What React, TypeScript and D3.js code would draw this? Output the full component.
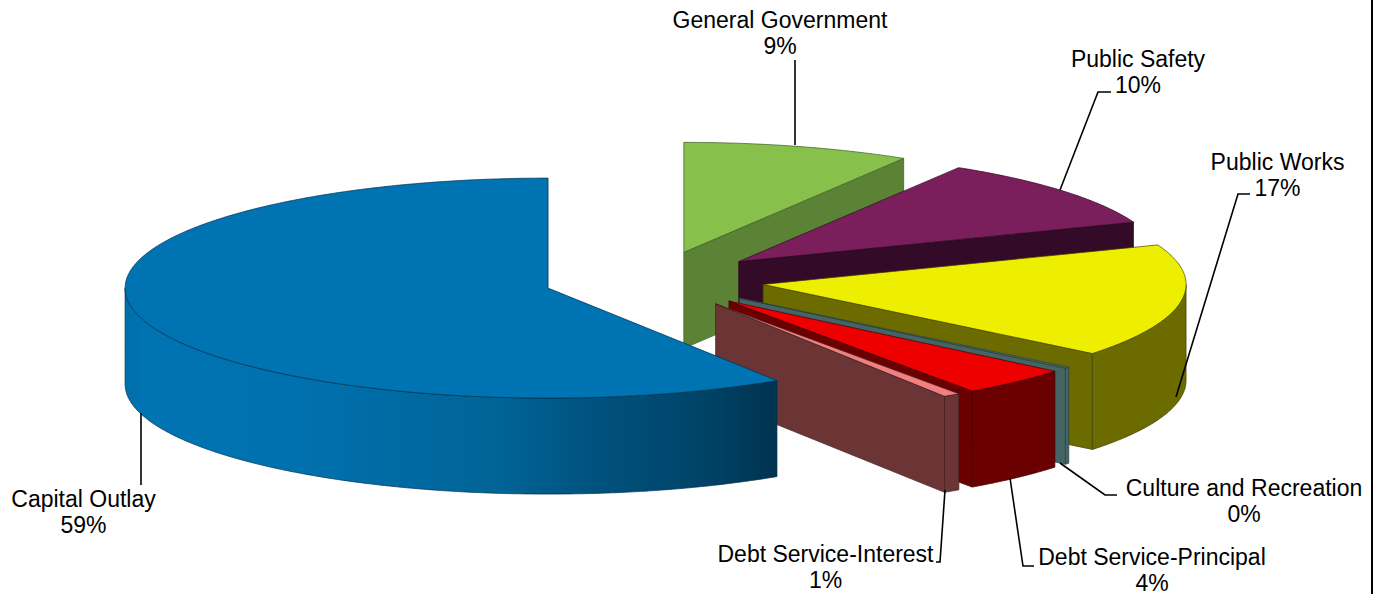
import React from "react";
import * as d3 from "d3";

// Expenditure categories, in clockwise order from twelve o'clock
const categories = [
  "General Government",
  "Public Safety",
  "Public Works",
  "Culture and Recreation",
  "Debt Service-Principal",
  "Debt Service-Interest",
  "Capital Outlay",
];
const shares = [8.7, 10.45, 16.65, 0.2, 4.25, 0.65, 59.1];
const topColors = ["#88C04C", "#7A1F5C", "#EEEE00", "#4A6A6B", "#EE0000", "#F08080", "#0073B2"];
const sideColors = ["#5C8236", "#330A28", "#6B6B00", "#456464", "#6B0000", "#6B3535", "url(#outlayWall)"];
const edgeColors = ["#3E5A24", "#2A0820", "#3F3F00", "#2B4040", "#3F0000", "#3F2020", "#00314F"];

// Label anchor (centre x, first baseline) for each category
const labelX = [780, 1138, 1277.5, 1244, 1152, 825.5, 83.5];
const labelY = [28, 67, 170, 496, 565, 562, 507];

// Leader line vertices for each category
const leaders: [number, number][][] = [
  [[795, 60], [795, 145]],
  [[1111, 92], [1098, 92], [1060, 190]],
  [[1250, 194], [1238, 194], [1176, 397]],
  [[1117, 495], [1105, 495], [1060, 463]],
  [[1034, 566], [1023, 566], [1010, 478]],
  [[936, 562], [940, 562], [945, 490]],
  [[141, 485], [141, 413]],
];

// Projection of the pie onto the page
const RX = 423;
const RY = 110;
const DEPTH = 96;
const CX = 654;
const CY = 280;
const EXPLODE = 0.261;

const xScale = d3.scaleLinear().domain([-1, 1]).range([CX - RX, CX + RX]);
const yScale = d3.scaleLinear().domain([-1, 1]).range([CY - RY, CY + RY]);

const toPath = d3.line<[number, number]>().x((p) => p[0]).y((p) => p[1]);

function sampleAngles(a0: number, a1: number): number[] {
  const n = Math.max(2, Math.ceil((a1 - a0) / 0.01));
  return d3.range(n + 1).map((i) => a0 + ((a1 - a0) * i) / n);
}

function App() {
  const arcs = d3.pie<number>().sort(null).value((d) => d)(shares);
  const pct = d3.format(".0%");

  const slices = arcs.map((arc, i) => {
    const mid = (arc.startAngle + arc.endAngle) / 2;
    const cx = xScale(EXPLODE * Math.sin(mid));
    const cy = yScale(-EXPLODE * Math.cos(mid));
    const rim = (a: number, drop = 0): [number, number] => [
      cx + RX * Math.sin(a),
      cy - RY * Math.cos(a) + drop,
    ];
    const apex: [number, number] = [cx, cy];
    const apexLow: [number, number] = [cx, cy + DEPTH];

    const faces: string[] = [];
    // Cut faces show only when they turn towards the viewer
    if (Math.sin(arc.endAngle) > 0) {
      faces.push(toPath([apex, rim(arc.endAngle), rim(arc.endAngle, DEPTH), apexLow])! + "Z");
    }
    if (Math.sin(arc.startAngle) < 0) {
      faces.push(toPath([apex, rim(arc.startAngle), rim(arc.startAngle, DEPTH), apexLow])! + "Z");
    }
    // Outer wall covers the front half of the ellipse only
    const w0 = Math.max(arc.startAngle, Math.PI / 2);
    const w1 = Math.min(arc.endAngle, (3 * Math.PI) / 2);
    if (w1 > w0) {
      const angles = sampleAngles(w0, w1);
      const pts = [
        ...angles.map((a) => rim(a)),
        ...angles.slice().reverse().map((a) => rim(a, DEPTH)),
      ];
      faces.push(toPath(pts)! + "Z");
    }
    const top =
      toPath([apex, ...sampleAngles(arc.startAngle, arc.endAngle).map((a) => rim(a))])! + "Z";
    return { i, faces, top };
  });

  return (
    <svg
      width={1384}
      height={594}
      viewBox="0 0 1384 594"
      style={{ position: "absolute", left: 0, top: 0, background: "#fff" }}
      fontFamily="'Liberation Sans', Arial, sans-serif"
    >
      <defs>
        <linearGradient id="outlayWall" gradientUnits="userSpaceOnUse" x1={125} x2={778} y1={0} y2={0}>
          <stop offset="0" stopColor="#006FAB" />
          <stop offset="0.03" stopColor="#0073B2" />
          <stop offset="0.27" stopColor="#0071AF" />
          <stop offset="0.42" stopColor="#006AA2" />
          <stop offset="0.57" stopColor="#006497" />
          <stop offset="0.72" stopColor="#00527E" />
          <stop offset="0.88" stopColor="#004468" />
          <stop offset="1" stopColor="#00334F" />
        </linearGradient>
      </defs>

      {slices.map((s) => (
        <g key={categories[s.i]}>
          {s.faces.map((d, k) => (
            <path
              key={k}
              d={d}
              fill={sideColors[s.i]}
              stroke={edgeColors[s.i]}
              strokeWidth={0.7}
              strokeLinejoin="round"
            />
          ))}
          <path
            d={s.top}
            fill={topColors[s.i]}
            stroke={edgeColors[s.i]}
            strokeWidth={0.7}
            strokeLinejoin="round"
          />
        </g>
      ))}

      {leaders.map((pts, i) => (
        <path key={i} d={toPath(pts)!} fill="none" stroke="#000" strokeWidth={1.6} />
      ))}

      {categories.map((name, i) => (
        <text key={name} x={labelX[i]} y={labelY[i]} textAnchor="middle" fontSize={23} fill="#000">
          <tspan x={labelX[i]}>{name}</tspan>
          <tspan x={labelX[i]} dy={25.5}>
            {pct(shares[i] / 100)}
          </tspan>
        </text>
      ))}

      {/* Frame edge on the right-hand side */}
      <line x1={1372} x2={1372} y1={0} y2={594} stroke="#000" strokeWidth={2} />
    </svg>
  );
}

export default App;
